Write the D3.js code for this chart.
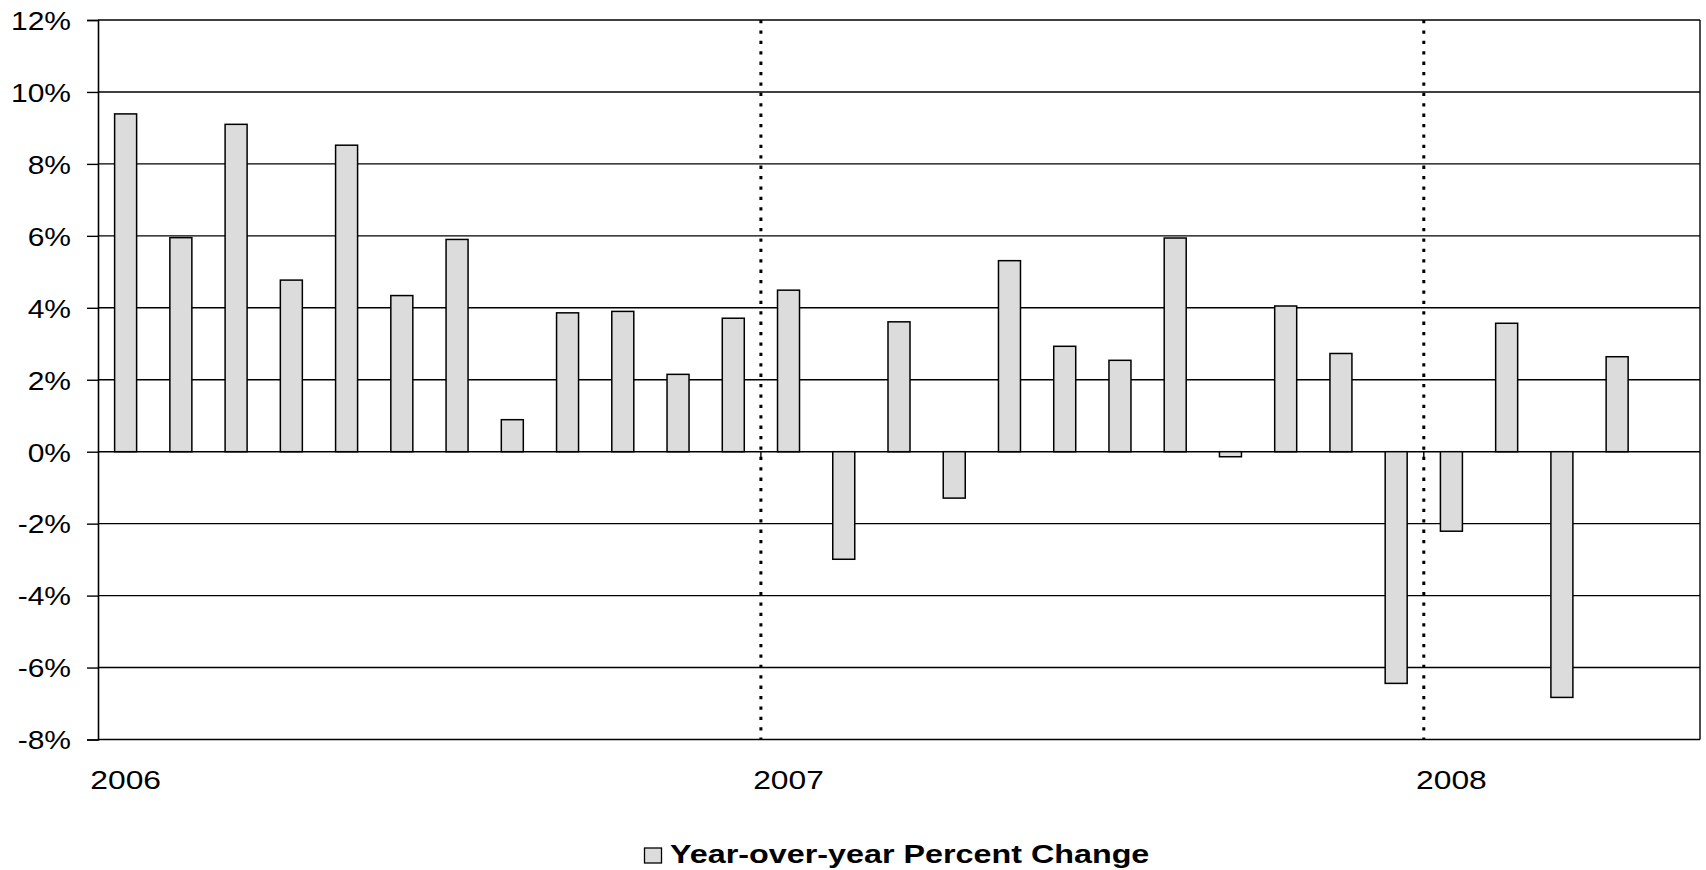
<!DOCTYPE html>
<html>
<head>
<meta charset="utf-8">
<script src="https://cdn.jsdelivr.net/npm/d3@7"></script>
<style>
  html, body { margin: 0; padding: 0; background: #fff; }
  svg { display: block; font-family: "Liberation Sans", Arial, sans-serif; }
</style>
</head>
<body>
<svg id="chart" width="1706" height="870"></svg>
<script>
// ---- data ----
const months = [
  "2006-01","2006-02","2006-03","2006-04","2006-05","2006-06",
  "2006-07","2006-08","2006-09","2006-10","2006-11","2006-12",
  "2007-01","2007-02","2007-03","2007-04","2007-05","2007-06",
  "2007-07","2007-08","2007-09","2007-10","2007-11","2007-12",
  "2008-01","2008-02","2008-03","2008-04"
];
const yoyChange = [
  9.39, 5.95, 9.10, 4.77, 8.52, 4.34,
  5.90, 0.89, 3.86, 3.90, 2.15, 3.71,
  4.49, -2.99, 3.61, -1.29, 5.31, 2.93,
  2.54, 5.94, -0.14, 4.05, 2.73, -6.44,
  -2.21, 3.57, -6.83, 2.64
];
const yTicks = [-8, -6, -4, -2, 0, 2, 4, 6, 8, 10, 12];
const yearLabels = ["2006", "2007", "2008"];
const yearStartIndex = [0, 12, 24];
const totalMonthSlots = 29;
const seriesName = "Year-over-year Percent Change";

// ---- layout ----
const svg = d3.select("#chart");
const plotL = 98, plotR = 1700, plotT = 20, plotB = 739.5;
const stretch = 1.2;

const x = d3.scaleLinear().domain([0, totalMonthSlots]).range([plotL, plotR]);
const y = d3.scaleLinear().domain([-8, 12]).range([plotB, plotT]);
const barW = 22;

// gridlines
svg.append("g").selectAll("line").data(yTicks).join("line")
  .attr("x1", plotL).attr("x2", plotR)
  .attr("y1", d => y(d)).attr("y2", d => y(d))
  .attr("stroke", "#000").attr("stroke-width", 1.4);

// right border
svg.append("line").attr("x1", plotR).attr("x2", plotR)
  .attr("y1", plotT).attr("y2", plotB)
  .attr("stroke", "#000").attr("stroke-width", 1.4);

// y axis
const yAxis = d3.axisLeft(y).tickValues(yTicks).tickSize(11).tickPadding(0)
  .tickFormat(d => d + "%");
const gy = svg.append("g").attr("transform", `translate(${plotL},0)`).call(yAxis);
gy.select(".domain").attr("stroke", "#000").attr("stroke-width", 1.6);
gy.selectAll(".tick line").attr("stroke", "#000").attr("stroke-width", 1.4);
gy.selectAll(".tick text")
  .attr("x", -27 / stretch).attr("dy", null).attr("y", 9.3)
  .attr("transform", `scale(${stretch},1)`)
  .attr("text-anchor", "end")
  .attr("fill", "#000")
  .style("font-size", "25px")
  .style("font-family", "'Liberation Sans', Arial, sans-serif");

// year separator dotted lines
svg.append("g").selectAll("line").data(yearStartIndex.filter(i => i > 0)).join("line")
  .attr("x1", d => x(d)).attr("x2", d => x(d))
  .attr("y1", plotT).attr("y2", plotB)
  .attr("stroke", "#000").attr("stroke-width", 3)
  .attr("stroke-dasharray", "3.3,7.1");

// small category ticks below zero line at year boundaries
svg.append("g").selectAll("line").data(yearStartIndex.filter(i => i > 0)).join("line")
  .attr("x1", d => x(d)).attr("x2", d => x(d))
  .attr("y1", y(0)).attr("y2", y(0) + 8)
  .attr("stroke", "#000").attr("stroke-width", 1.4);

// bars
svg.append("g").selectAll("rect").data(yoyChange).join("rect")
  .attr("x", (d, i) => x(i + 0.5) - barW / 2)
  .attr("width", barW)
  .attr("y", d => y(Math.max(0, d)))
  .attr("height", d => Math.abs(y(d) - y(0)))
  .attr("fill", "#dcdcdc")
  .attr("stroke", "#000").attr("stroke-width", 1.5);

// year labels
svg.append("g").selectAll("text").data(yearLabels).join("text")
  .attr("transform", (d, i) => `translate(${x(yearStartIndex[i] + 0.5)},789) scale(${stretch},1)`)
  .attr("text-anchor", "middle")
  .attr("fill", "#000")
  .style("font-size", "26.5px")
  .text(d => d);

// legend
const lg = svg.append("g");
lg.append("rect").attr("x", 644.5).attr("y", 848).attr("width", 17).attr("height", 15)
  .attr("fill", "#dcdcdc").attr("stroke", "#000").attr("stroke-width", 1.3);
lg.append("text")
  .attr("transform", `translate(670,863.3) scale(1.243,1)`)
  .attr("fill", "#000")
  .style("font-size", "26px").style("font-weight", "bold")
  .text(seriesName);
</script>
</body>
</html>
